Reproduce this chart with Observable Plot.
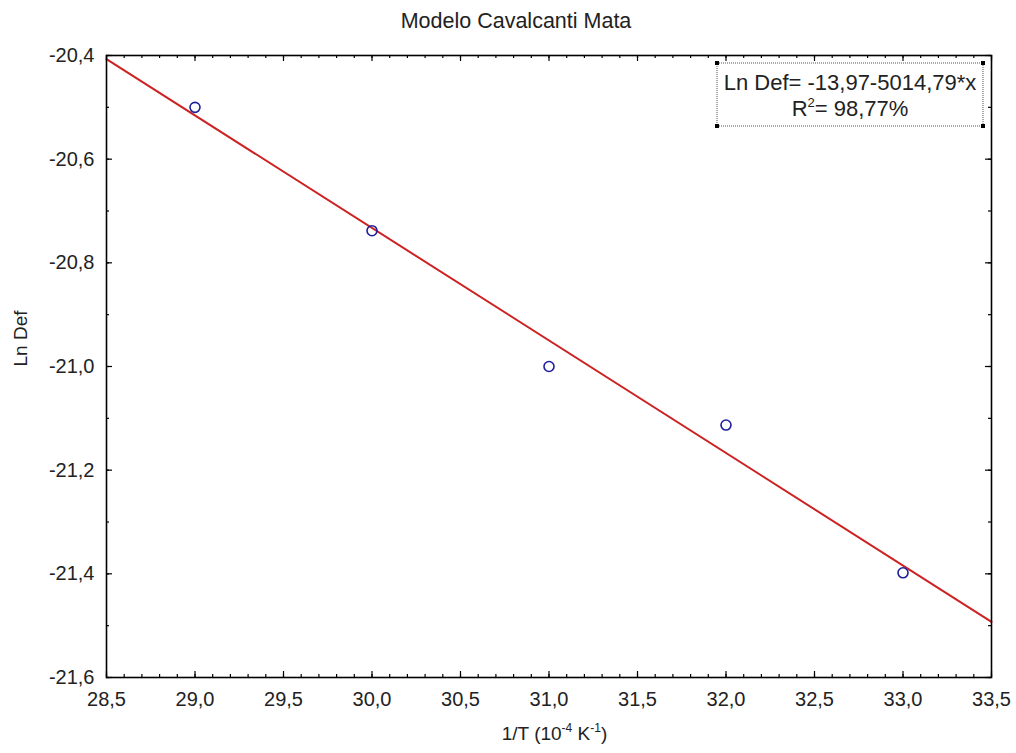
<!DOCTYPE html>
<html>
<head>
<meta charset="utf-8">
<script src="https://cdn.jsdelivr.net/npm/d3@7"></script>
<script src="https://cdn.jsdelivr.net/npm/@observablehq/plot@0.6"></script>
<style>
  html, body { margin: 0; padding: 0; background: #fff; }
  #chart svg { font-family: "Liberation Sans", Arial, sans-serif; display: block; }
</style>
</head>
<body>
<div id="chart"></div>
<script>
// ---- Data ----
const invT = [29.0, 30.0, 31.0, 32.0, 33.0];            // 1/T (10^-4 K^-1)
const lnDef = [-20.500, -20.738, -21.000, -21.113, -21.398];
const xTicks = [28.5, 29.0, 29.5, 30.0, 30.5, 31.0, 31.5, 32.0, 32.5, 33.0, 33.5];
const yTicks = [-21.6, -21.4, -21.2, -21.0, -20.8, -20.6, -20.4];
const xMinor = d3.range(285, 336).map(d => d / 10);
const yMinor = d3.range(-216, -203).map(d => d / 10);
const titleText = "Modelo Cavalcanti Mata";
const yLabel = "Ln Def";
const eqText = "Ln Def= -13,97-5014,79*x";
const r2Text = "98,77%";

const data = invT.map((x, i) => ({x, y: lnDef[i]}));

// least-squares fit from the data, drawn across the full x domain
const mx = d3.mean(invT), my = d3.mean(lnDef);
const slope = d3.sum(invT, (x, i) => (x - mx) * (lnDef[i] - my)) / d3.sum(invT, x => (x - mx) ** 2);
const intercept = my - slope * mx;
const xDomain = [xTicks[0], xTicks[xTicks.length - 1]];
const fitLine = xDomain.map(x => ({x, y: intercept + slope * x}));

const W = 1016, H = 753;
const mL = 106, mR = 25, mT = 55, mB = 76;
const fw = W - mL - mR, fh = H - mT - mB;
const fmt = d => d.toFixed(1).replace(".", ",");

const plot = Plot.plot({
  width: W, height: H,
  marginLeft: mL, marginRight: mR, marginTop: mT, marginBottom: mB,
  style: {fontFamily: "'Liberation Sans', Arial, sans-serif", fontSize: "20px", color: "#222", background: "#fff"},
  x: {domain: xDomain},
  y: {domain: [yTicks[0], yTicks[yTicks.length - 1]]},
  marks: [
    Plot.axisX(xTicks, {tickSize: 0, tickPadding: 14, tickFormat: fmt, fontSize: 20, fill: "#222", label: null}),
    Plot.axisY(yTicks, {tickSize: 0, tickPadding: 12, tickFormat: fmt, fontSize: 20, fill: "#222", label: null}),
    // inward ticks: bottom & top
    Plot.tickX(xMinor, {x: d => d, insetTop: fh - 3, stroke: "#000", strokeWidth: 1.2}),
    Plot.tickX(xTicks, {x: d => d, insetTop: fh - 6, stroke: "#000", strokeWidth: 1.2}),
    Plot.tickX(xMinor, {x: d => d, insetBottom: fh - 3, stroke: "#000", strokeWidth: 1.2}),
    Plot.tickX(xTicks, {x: d => d, insetBottom: fh - 6, stroke: "#000", strokeWidth: 1.2}),
    // inward ticks: left & right
    Plot.tickY(yMinor, {y: d => d, insetRight: fw - 3, stroke: "#000", strokeWidth: 1.2}),
    Plot.tickY(yTicks, {y: d => d, insetRight: fw - 6, stroke: "#000", strokeWidth: 1.2}),
    Plot.tickY(yMinor, {y: d => d, insetLeft: fw - 3, stroke: "#000", strokeWidth: 1.2}),
    Plot.tickY(yTicks, {y: d => d, insetLeft: fw - 6, stroke: "#000", strokeWidth: 1.2}),
    Plot.line(fitLine, {x: "x", y: "y", stroke: "#cc2222", strokeWidth: 2}),
    Plot.dot(data, {x: "x", y: "y", r: 5, stroke: "#1f1f9e", strokeWidth: 1.6, fill: "none"}),
    Plot.frame({stroke: "#000", strokeWidth: 1.6}),
    Plot.text([titleText], {text: d => d, frameAnchor: "top", lineAnchor: "bottom", dy: -28, dx: -33, fontSize: 21.5, fill: "#222"}),
    Plot.text([yLabel], {text: d => d, frameAnchor: "left", dx: -86, rotate: -90, fontSize: 19, fill: "#222"})
  ]
});
document.getElementById("chart").appendChild(plot);

// ---- annotations needing superscripts: x label & legend box ----
const svg = d3.select(plot);
const xl = svg.append("text")
  .attr("x", mL + fw / 2 + 6).attr("y", H - 13)
  .attr("text-anchor", "middle").attr("font-size", 19).attr("fill", "#222");
xl.append("tspan").text("1/T (10");
xl.append("tspan").attr("font-size", 12).attr("dy", -8).text("-4");
xl.append("tspan").attr("dy", 8).text(" K");
xl.append("tspan").attr("font-size", 12).attr("dy", -8).text("-1");
xl.append("tspan").attr("dy", 8).text(")");

const bx = mL + fw - 8 - 266, by = mT + 8, bw = 266, bh = 63;
const g = svg.append("g");
g.append("rect").attr("x", bx).attr("y", by).attr("width", bw).attr("height", bh)
  .attr("fill", "#fff").attr("stroke", "#555").attr("stroke-width", 1).attr("stroke-dasharray", "1,1");
[[bx, by], [bx + bw, by], [bx, by + bh], [bx + bw, by + bh]].forEach(([cx, cy]) =>
  g.append("rect").attr("x", cx - 2).attr("y", cy - 2).attr("width", 4).attr("height", 4).attr("fill", "#000"));
g.append("text").attr("x", bx + bw / 2).attr("y", by + 27).attr("text-anchor", "middle")
  .attr("font-size", 22).attr("fill", "#222").text(eqText);
const t2 = g.append("text").attr("x", bx + bw / 2).attr("y", by + 53).attr("text-anchor", "middle")
  .attr("font-size", 22).attr("fill", "#222");
t2.append("tspan").text("R");
t2.append("tspan").attr("font-size", 13).attr("dy", -9).text("2");
t2.append("tspan").attr("dy", 9).text("= " + r2Text);
</script>
</body>
</html>
